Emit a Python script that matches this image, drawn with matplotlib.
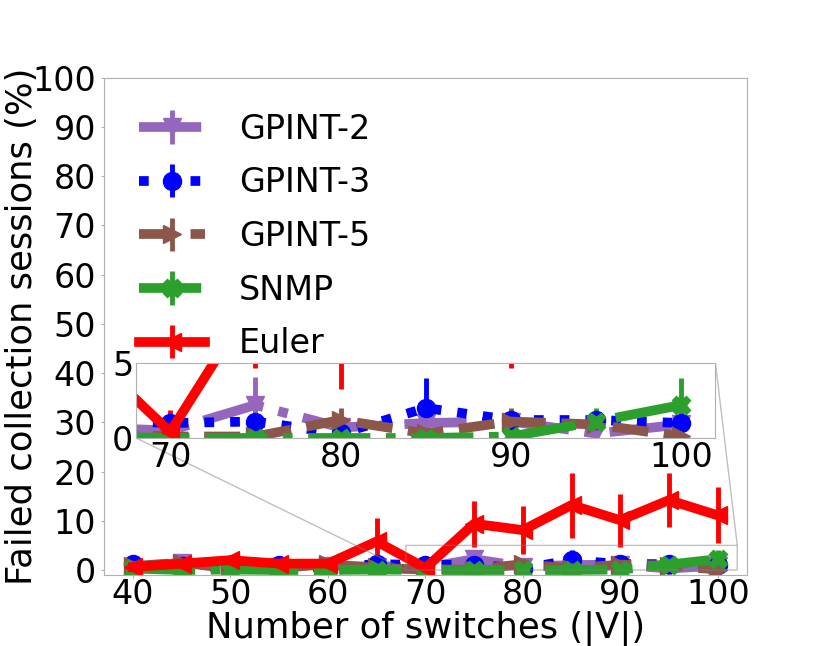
import numpy as np
import matplotlib
matplotlib.use('Agg')
import matplotlib.pyplot as plt

# --- data ---
switches = [40, 45, 50, 55, 60, 65, 70, 75, 80, 85, 90, 95, 100]

gpint2 = [0.5, 1.5, 0.5, 0.6, 0.8, 0.7, 0.5, 2.2, 0.7, 1.0, 1.1, 0.3, 0.9]
gpint2_err = [0.4, 0.5, 0.4, 0.4, 0.5, 0.5, 0.4, 1.9, 0.5, 0.6, 0.6, 0.3, 0.5]

gpint3 = [1.2, 0.8, 0.6, 1.0, 0.5, 1.2, 1.0, 1.1, 0.3, 2.0, 1.2, 1.2, 1.0]
gpint3_err = [0.5, 0.4, 0.4, 0.5, 0.3, 0.6, 0.5, 0.5, 0.3, 2.0, 0.6, 0.6, 0.5]

gpint5 = [0.8, 1.5, 0.3, 0.4, 1.2, 0.4, 0.1, 0.1, 1.2, 0.3, 1.1, 0.9, 0.1]
gpint5_err = [0.4, 0.5, 0.3, 0.3, 0.6, 0.3, 0.1, 0.1, 0.8, 0.3, 0.9, 0.5, 0.1]

snmp = [0.3, 0.0, 0.1, 0.0, 0.0, 0.1, 0.0, 0.0, 0.0, 0.0, 0.1, 1.1, 2.2]
snmp_err = [0.3, 0.0, 0.1, 0.0, 0.0, 0.1, 0.0, 0.0, 0.0, 0.0, 0.1, 0.9, 1.8]

euler = [0.6, 1.3, 2.0, 1.3, 1.3, 5.8, 0.4, 9.4, 8.1, 13.2, 10.1, 14.2, 11.1]
euler_err = [0.8, 0.8, 1.0, 0.7, 0.7, 4.7, 1.5, 4.7, 4.8, 6.6, 5.4, 5.4, 5.7]

series = [
    ('GPINT-2', gpint2, gpint2_err, '#9467bd', '-.', 'v'),
    ('GPINT-3', gpint3, gpint3_err, '#0000ff', ':', 'o'),
    ('GPINT-5', gpint5, gpint5_err, '#8c564b', '--', '>'),
    ('SNMP', snmp, snmp_err, '#2ca02c', '-.', 'X'),
    ('Euler', euler, euler_err, '#ff0000', '-', '<'),
]

fs = 24
spine_col = '#b0b0b0'

fig = plt.figure(figsize=(8.3, 6.46), dpi=100)
ax = fig.add_subplot(111)


def draw(a):
    for name, vals, errs, col, ls, mk in series:
        a.errorbar(switches, vals, yerr=errs, color=col, linestyle=ls, marker=mk,
                   lw=7, markersize=13, elinewidth=3.5, capsize=0, label=name)


draw(ax)
ax.set_xlim(37, 103)
ax.set_ylim(-1, 100)
ax.set_xticks([40, 50, 60, 70, 80, 90, 100])
ax.set_yticks(np.arange(0, 101, 10))
ax.tick_params(labelsize=fs, length=2, color=spine_col)
ax.tick_params(axis='x', pad=0)
ax.set_xlabel('Number of switches (|V|)', fontsize=25.5, labelpad=0)
ax.set_ylabel('Failed collection sessions (%)', fontsize=25.5, labelpad=-5)
for s in ax.spines.values():
    s.set_color(spine_col)

ax.legend(loc='upper left', fontsize=fs, frameon=False, labelspacing=0.62,
          handletextpad=1.0, borderaxespad=0.65)

# --- zoomed inset ---
axins = fig.add_axes([0.164, 0.322, 0.698, 0.116])
draw(axins)
axins.set_xlim(68, 102)
axins.set_ylim(0, 5)
axins.set_xticks([70, 80, 90, 100])
axins.set_yticks([0, 5])
axins.tick_params(labelsize=fs, length=0, pad=2)
for s in axins.spines.values():
    s.set_color(spine_col)
ax.indicate_inset_zoom(axins, edgecolor='0.5')

fig.savefig('out.png', dpi=100)
